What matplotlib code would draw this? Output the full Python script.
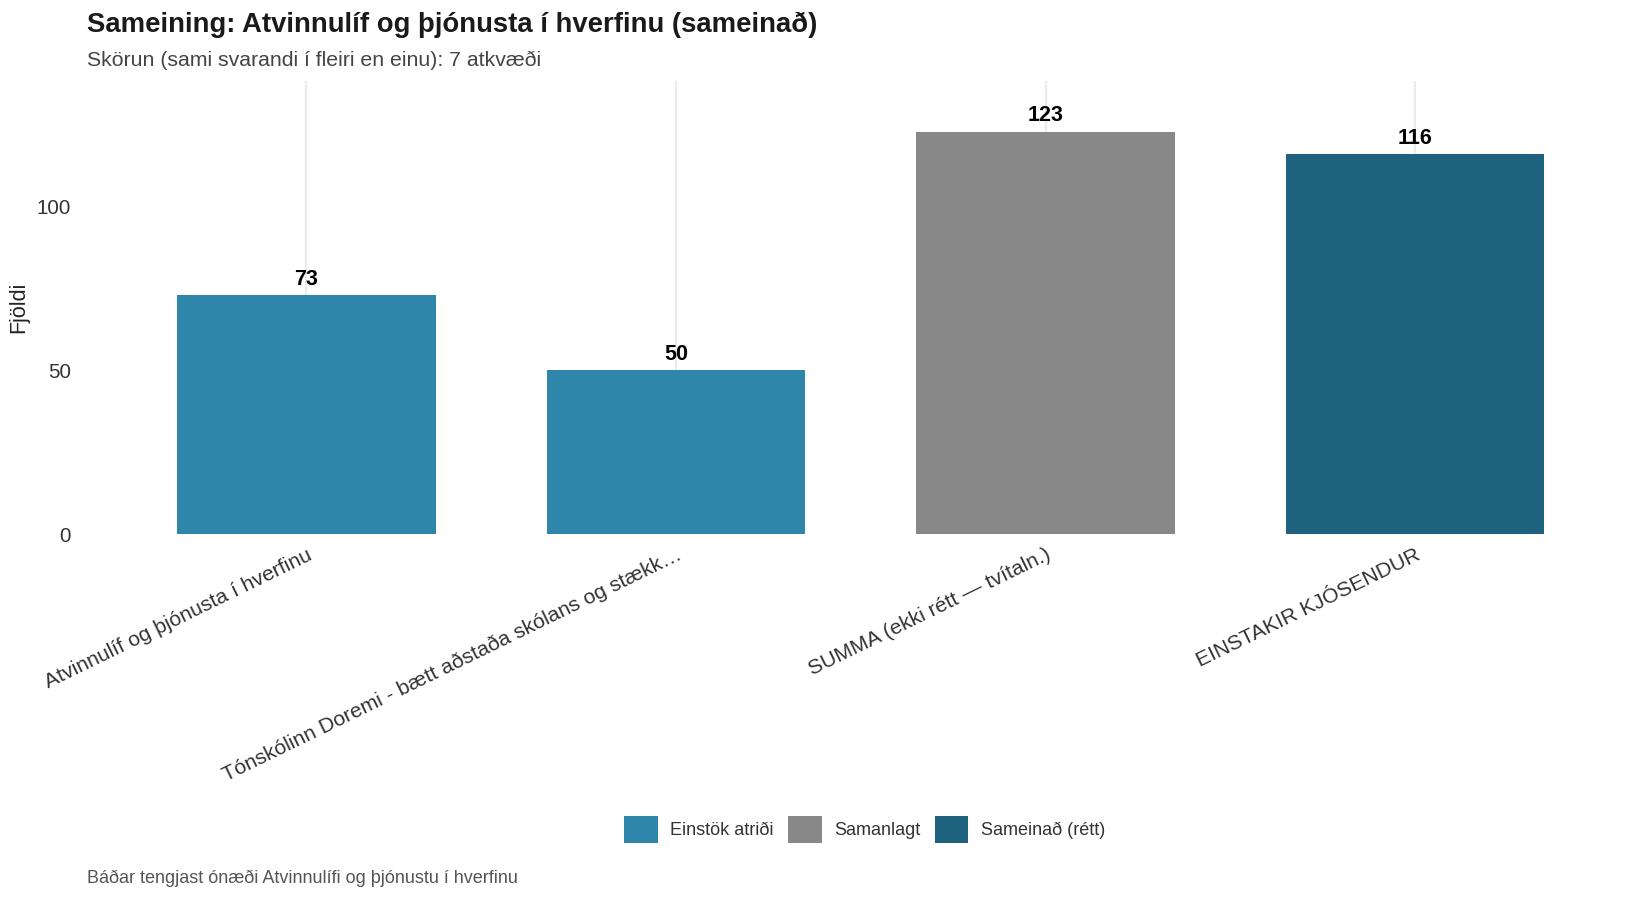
import matplotlib
matplotlib.use("Agg")
import matplotlib.pyplot as plt
from matplotlib.patches import Patch

plt.rcParams['font.family'] = ['Liberation Sans', 'DejaVu Sans']

# data
categories = [
    "Atvinnulíf og þjónusta í hverfinu",
    "Tónskólinn Doremi - bætt aðstaða skólans og stækk…",
    "SUMMA (ekki rétt — tvítaln.)",
    "EINSTAKIR KJÓSENDUR",
]
values = [73, 50, 123, 116]
groups = ["Einstök atriði", "Einstök atriði", "Samanlagt", "Sameinað (rétt)"]
group_colors = {
    "Einstök atriði": "#2E86AB",
    "Samanlagt": "#888888",
    "Sameinað (rétt)": "#1F627D",
}
y_ticks = [0, 50, 100]

title = "Sameining: Atvinnulíf og þjónusta í hverfinu (sameinað)"
subtitle = "Skörun (sami svarandi í fleiri en einu): 7 atkvæði"
caption = "Báðar tengjast ónæði Atvinnulífi og þjónustu í hverfinu"

fig = plt.figure(figsize=(16.5, 9), dpi=100)
ax = fig.add_axes([0.0513, 0.4066, 0.9407, 0.5029])

x = list(range(len(categories)))
colors = [group_colors[g] for g in groups]
ax.bar(x, values, width=0.7, color=colors, zorder=2)

for xi, v in zip(x, values):
    ax.annotate(str(v), (xi, v), xytext=(0, 4), textcoords="offset points",
                ha="center", va="bottom", fontsize=15.5, fontweight="bold",
                color="black")

ax.set_xlim(-0.6, len(categories) - 0.4)
ax.set_ylim(0, 138.3)
ax.set_yticks(y_ticks)
ax.set_xticks(x)
ax.set_xticklabels(categories, rotation=26, ha="right", rotation_mode="anchor",
                   fontsize=15.2, color="#333333")
ax.tick_params(axis="y", labelsize=14.8, labelcolor="#333333", length=0, pad=10)
ax.tick_params(axis="x", length=0, pad=8)

ax.grid(axis="x", color="#ebebeb", linewidth=1.6, zorder=0)
ax.grid(axis="y", visible=False)
for s in ax.spines.values():
    s.set_visible(False)

ax.set_ylabel("Fjöldi", fontsize=15.5, color="#222222")
ax.yaxis.set_label_coords(-0.036, 0.5)

fig.text(0.0526, 0.972, title, fontsize=19.8, fontweight="bold", color="#1a1a1a",
         ha="left", va="center")
fig.text(0.0526, 0.933, subtitle, fontsize=15.3, color="#444444",
         ha="left", va="center")
fig.text(0.0526, 0.024, caption, fontsize=13, color="#555555",
         ha="left", va="center")

handles = [Patch(facecolor=c, edgecolor="none", label=g) for g, c in group_colors.items()]
fig.legend(handles=handles, loc="center", bbox_to_anchor=(0.524, 0.0785), ncol=3,
           frameon=False, fontsize=13, handlelength=1.88, handleheight=1.88,
           handletextpad=0.7, columnspacing=0.77, labelcolor="#333333")

fig.savefig("out.png", dpi=100, facecolor="white")
